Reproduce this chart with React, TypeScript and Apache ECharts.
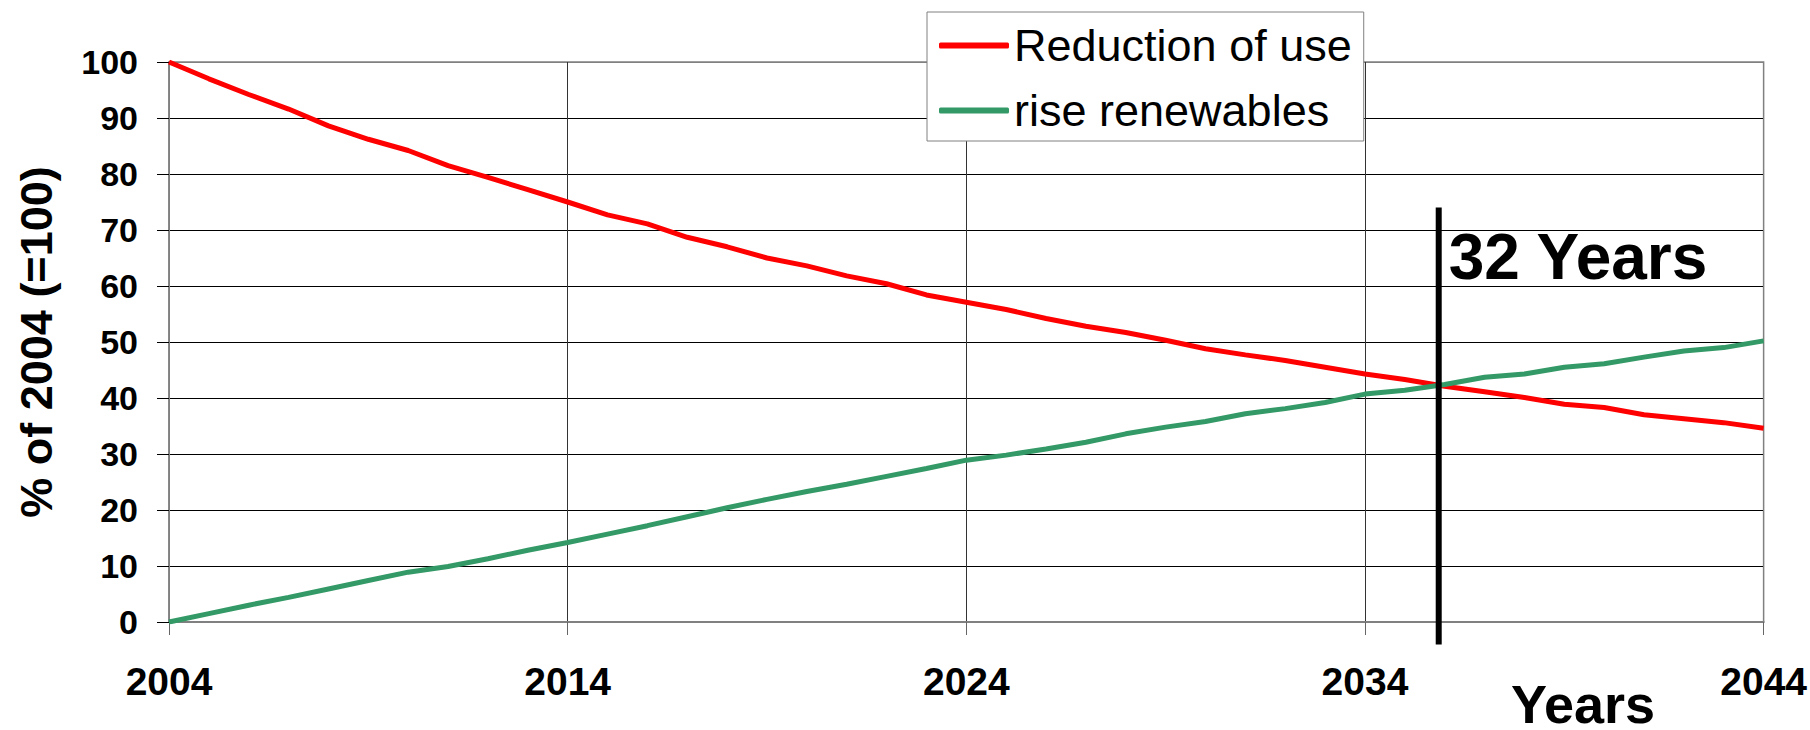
import React, { useEffect, useRef } from "react";
import * as echarts from "echarts";

const years = [
  "2004", "2005", "2006", "2007", "2008", "2009", "2010", "2011", "2012", "2013",
  "2014", "2015", "2016", "2017", "2018", "2019", "2020", "2021", "2022", "2023",
  "2024", "2025", "2026", "2027", "2028", "2029", "2030", "2031", "2032", "2033",
  "2034", "2035", "2036", "2037", "2038", "2039", "2040", "2041", "2042", "2043",
  "2044",
];

const reductionOfUse = [
  100, 97.0, 94.2, 91.6, 88.6, 86.2, 84.2, 81.5, 79.4, 77.2,
  75.0, 72.7, 71.1, 68.7, 67.0, 65.0, 63.6, 61.8, 60.4, 58.4,
  57.1, 55.8, 54.2, 52.8, 51.7, 50.3, 48.8, 47.7, 46.7, 45.5,
  44.3, 43.3, 42.1, 41.1, 40.1, 38.9, 38.3, 37.0, 36.3, 35.6,
  34.6,
];

const riseRenewables = [
  0, 1.5, 3.0, 4.4, 5.9, 7.4, 8.9, 9.9, 11.3, 12.8,
  14.2, 15.7, 17.2, 18.8, 20.4, 21.9, 23.3, 24.6, 26.0, 27.4,
  28.9, 29.8, 30.9, 32.1, 33.6, 34.8, 35.8, 37.2, 38.1, 39.2,
  40.7, 41.4, 42.4, 43.7, 44.3, 45.5, 46.1, 47.3, 48.4, 49.0,
  50.2,
];

const seriesNames = ["Reduction of use", "rise renewables"];
const yAxisTitle = "% of 2004 (=100)";
const xAxisTitle = "Years";
const markerLabel = "32 Years";
// marker: position in years after 2004 (crossing point), and vertical extent in axis values
const markerIndex = 31.85;
const markerTopValue = 74;
const markerBottomValue = -4;

const FONT = "'Liberation Sans', Arial, Helvetica, sans-serif";

export default function App() {
  const ref = useRef<HTMLDivElement>(null);

  useEffect(() => {
    const chart = echarts.init(ref.current!, null, { renderer: "svg" });
    const hLineColors = [
      "#000", "#000", "#000", "#000", "#000", "#000", "#000", "#000", "#000", "#000", "#808080",
    ];
    const vLineColors = ["#808080", "#333", "#333", "#333", "#808080"];
    chart.setOption({
      animation: false,
      backgroundColor: "#fff",
      grid: {
        left: 169,
        right: 45,
        top: 62,
        bottom: 108,
        show: true,
        borderColor: "#808080",
        borderWidth: 1.5,
        backgroundColor: "transparent",
      },
      legend: {
        orient: "vertical",
        left: 927,
        top: 12,
        padding: [8, 12, 5, 12],
        itemWidth: 70,
        itemHeight: 6,
        itemGap: 14,
        icon: "roundRect",
        backgroundColor: "#fff",
        borderColor: "#808080",
        borderWidth: 1,
        textStyle: {
          fontSize: 45,
          lineHeight: 45,
          padding: [6, 0, 0, 0],
          color: "#000",
          fontFamily: FONT,
        },
        data: seriesNames,
      },
      xAxis: {
        type: "category",
        data: years,
        boundaryGap: false,
        axisLine: { show: true, lineStyle: { color: "#808080", width: 2 } },
        axisTick: { show: true, interval: 9, length: 13, lineStyle: { color: "#666", width: 1 } },
        axisLabel: {
          interval: 9,
          margin: 40,
          fontSize: 39,
          fontWeight: "bold",
          color: "#000",
          fontFamily: FONT,
        },
        splitLine: { show: true, interval: 9, lineStyle: { color: vLineColors, width: 1 } },
      },
      yAxis: {
        type: "value",
        min: 0,
        max: 100,
        interval: 10,
        name: yAxisTitle,
        nameLocation: "middle",
        nameGap: 110,
        nameTextStyle: { fontSize: 45, fontWeight: "bold", color: "#000", fontFamily: FONT },
        axisLine: { show: true, lineStyle: { color: "#808080", width: 1.5 } },
        axisTick: { show: true, length: 12, lineStyle: { color: "#000", width: 1 } },
        axisLabel: {
          margin: 31,
          fontSize: 34,
          fontWeight: "bold",
          color: "#000",
          fontFamily: FONT,
        },
        splitLine: { show: true, lineStyle: { color: hLineColors, width: 1 } },
      },
      series: [
        {
          name: seriesNames[0],
          type: "line",
          data: reductionOfUse,
          symbol: "none",
          color: "#ff0000",
          lineStyle: { color: "#ff0000", width: 5 },
          z: 3,
        },
        {
          name: seriesNames[1],
          type: "line",
          data: riseRenewables,
          symbol: "none",
          color: "#339966",
          lineStyle: { color: "#339966", width: 5 },
          z: 3,
        },
      ],
    });

    const i0 = Math.floor(markerIndex);
    const pA = chart.convertToPixel({ xAxisIndex: 0, yAxisIndex: 0 }, [years[i0], markerTopValue]) as number[];
    const pB = chart.convertToPixel({ xAxisIndex: 0, yAxisIndex: 0 }, [years[i0 + 1], markerBottomValue]) as number[];
    const mx = pA[0] + (pB[0] - pA[0]) * (markerIndex - i0);
    const yTop = pA[1];
    const yBottom = pB[1];

    chart.setOption({
      graphic: [
        {
          type: "line",
          z: 10,
          shape: { x1: mx, y1: yTop, x2: mx, y2: yBottom },
          style: { stroke: "#000", lineWidth: 6 },
        },
        {
          type: "text",
          z: 10,
          x: mx + 10,
          y: yTop + 49,
          style: {
            text: markerLabel,
            fontSize: 64,
            fontWeight: "bold",
            fontFamily: FONT,
            fill: "#000",
            align: "left",
            verticalAlign: "middle",
          },
        },
        {
          type: "text",
          z: 10,
          x: 1583,
          y: 704,
          style: {
            text: xAxisTitle,
            fontSize: 54,
            lineHeight: 44,
            fontWeight: "bold",
            fontFamily: FONT,
            fill: "#000",
            align: "center",
            verticalAlign: "middle",
          },
        },
      ],
    });

    return () => chart.dispose();
  }, []);

  return (
    <div
      ref={ref}
      style={{ position: "fixed", left: 0, top: 0, width: 1810, height: 730, background: "#fff" }}
    />
  );
}
